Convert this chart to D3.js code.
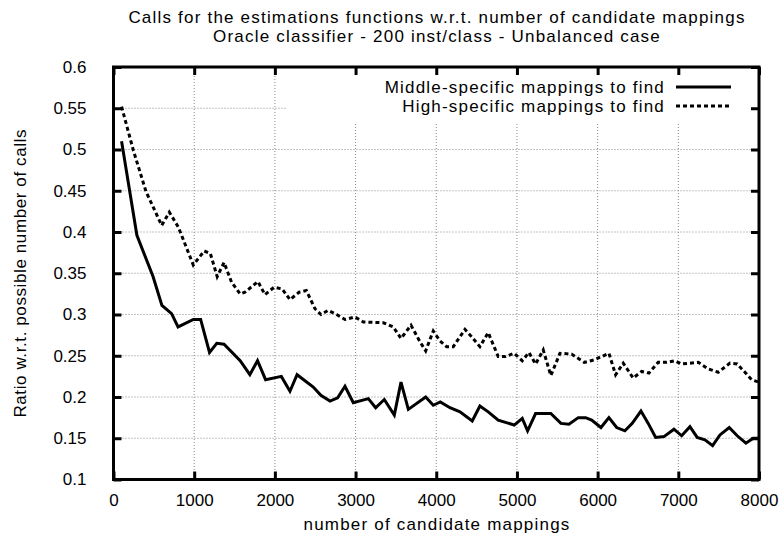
<!DOCTYPE html>
<html>
<head>
<meta charset="utf-8">
<script src="https://cdn.jsdelivr.net/npm/d3@7"></script>
<style>
  body { margin: 0; background: #fff; }
  text { font-family: "Liberation Sans", Arial, sans-serif; fill: #000; }
  .lbl { font-size: 17px; letter-spacing: 1.2px; }
</style>
</head>
<body>
<div id="chart"></div>
<script>
var width = 780;
var height = 543;

// data
var seriesNames = ["Middle-specific mappings to find", "High-specific mappings to find"];
var middleX = [100, 290, 490, 600, 720, 800, 990, 1080, 1190, 1280, 1370, 1570, 1690, 1785, 1885, 2080, 2187, 2275, 2476, 2570,
  2683, 2778, 2869, 2972, 3158, 3249, 3356, 3480, 3563, 3654, 3869, 3963, 4050, 4170, 4294, 4446, 4541, 4644, 4768, 4966,
  5066, 5132, 5231, 5420, 5545, 5645, 5760, 5851, 5926, 6041, 6140, 6236, 6338, 6429, 6537, 6627, 6719, 6822, 6946, 7041,
  7144, 7234, 7330, 7425, 7516, 7631, 7730, 7838, 7928, 8000];
var middleY = [0.510, 0.396, 0.346, 0.311, 0.301, 0.285, 0.294, 0.294, 0.254, 0.265, 0.264, 0.244, 0.227, 0.244, 0.221, 0.225, 0.207, 0.227, 0.212, 0.202,
  0.195, 0.199, 0.213, 0.193, 0.198, 0.187, 0.197, 0.178, 0.218, 0.185, 0.200, 0.190, 0.194, 0.187, 0.182, 0.171, 0.189, 0.182, 0.172, 0.166,
  0.174, 0.159, 0.180, 0.180, 0.168, 0.167, 0.175, 0.175, 0.172, 0.163, 0.175, 0.163, 0.159, 0.168, 0.183, 0.168, 0.151, 0.152, 0.161, 0.153,
  0.164, 0.151, 0.148, 0.141, 0.154, 0.163, 0.153, 0.144, 0.150, 0.150];
var highX = [100, 246, 403, 597, 692, 803, 989, 1125, 1200, 1285, 1370, 1464, 1570, 1629, 1790, 1877, 1990, 2090, 2187, 2300,
  2390, 2497, 2571, 2662, 2765, 2869, 2993, 3096, 3344, 3467, 3563, 3687, 3798, 3869, 3963, 4046, 4129, 4211, 4356, 4439,
  4541, 4644, 4768, 4860, 4966, 5066, 5149, 5231, 5326, 5420, 5533, 5678, 5834, 5958, 6140, 6223, 6317, 6441, 6545, 6636,
  6751, 6854, 6958, 7041, 7247, 7371, 7495, 7640, 7730, 7826, 7908, 8000];
var highY = [0.552, 0.499, 0.449, 0.408, 0.424, 0.406, 0.360, 0.377, 0.374, 0.346, 0.363, 0.339, 0.325, 0.327, 0.340, 0.324, 0.333, 0.331, 0.318, 0.327,
  0.329, 0.307, 0.300, 0.305, 0.300, 0.294, 0.297, 0.291, 0.290, 0.285, 0.271, 0.287, 0.267, 0.256, 0.280, 0.268, 0.261, 0.261, 0.282, 0.273,
  0.261, 0.278, 0.249, 0.249, 0.253, 0.244, 0.254, 0.240, 0.257, 0.226, 0.253, 0.252, 0.242, 0.245, 0.253, 0.227, 0.241, 0.223, 0.231, 0.229,
  0.242, 0.242, 0.244, 0.240, 0.242, 0.234, 0.230, 0.241, 0.240, 0.230, 0.221, 0.218];
var xTicks = [0, 1000, 2000, 3000, 4000, 5000, 6000, 7000, 8000];
var yTicks = [0.1, 0.15, 0.2, 0.25, 0.3, 0.35, 0.4, 0.45, 0.5, 0.55, 0.6];

var pLeft = 113.5, pRight = 759, pTop = 67, pBottom = 479.5;

var svg = d3.select("#chart").append("svg")
  .attr("width", width)
  .attr("height", height);

var xScale = d3.scaleLinear().domain([0, 8000]).range([pLeft, pRight]);
var yScale = d3.scaleLinear().domain([0.1, 0.6]).range([pBottom, pTop]);

// grid
var grid = svg.append("g");
grid.selectAll(".vgrid").data(xTicks.slice(1, -1)).enter().append("line")
  .attr("x1", d => xScale(d)).attr("x2", d => xScale(d))
  .attr("y1", pTop).attr("y2", pBottom)
  .attr("stroke", "#888").attr("stroke-width", 1).attr("stroke-dasharray", "1,2");
grid.selectAll(".hgrid").data(yTicks.slice(1, -1)).enter().append("line")
  .attr("x1", pLeft).attr("x2", pRight)
  .attr("y1", d => yScale(d)).attr("y2", d => yScale(d))
  .attr("stroke", "#888").attr("stroke-width", 1).attr("stroke-dasharray", "1,2");

// key box blanks the grid
svg.append("rect")
  .attr("x", 287).attr("y", pTop)
  .attr("width", pRight - 287).attr("height", 56)
  .attr("fill", "#fff");

// axes with inward ticks on all four sides
var fmtY = d => String(+d.toFixed(2));
var xAxis = d3.axisBottom(xScale).tickValues(xTicks).tickSizeInner(-8).tickSizeOuter(0).tickPadding(14).tickFormat(d3.format("d"));
var yAxis = d3.axisLeft(yScale).tickValues(yTicks).tickSizeInner(-8).tickSizeOuter(0).tickPadding(27).tickFormat(fmtY);
var xTop = d3.axisTop(xScale).tickValues(xTicks).tickSizeInner(-8).tickSizeOuter(0).tickFormat("");
var yRight = d3.axisRight(yScale).tickValues(yTicks).tickSizeInner(-8).tickSizeOuter(0).tickFormat("");

function styleAxis(g) {
  g.select(".domain").remove();
  g.selectAll(".tick line").attr("stroke", "#000").attr("stroke-width", 3);
  g.selectAll(".tick text").style("font-size", "17px").style("font-family", "Liberation Sans, Arial, sans-serif");
}
svg.append("g").attr("transform", "translate(0," + pBottom + ")").call(xAxis).call(styleAxis);
svg.append("g").attr("transform", "translate(" + pLeft + ",0)").call(yAxis).call(styleAxis);
svg.append("g").attr("transform", "translate(0," + pTop + ")").call(xTop).call(styleAxis);
svg.append("g").attr("transform", "translate(" + pRight + ",0)").call(yRight).call(styleAxis);

svg.append("rect")
  .attr("x", pLeft).attr("y", pTop)
  .attr("width", pRight - pLeft).attr("height", pBottom - pTop)
  .attr("fill", "none").attr("stroke", "#000").attr("stroke-width", 3);

// lines
var line = d3.line().x(d => xScale(d[0])).y(d => yScale(d[1]));
var middle = middleX.map((x, i) => [x, middleY[i]]);
var high = highX.map((x, i) => [x, highY[i]]);

svg.append("path").datum(middle)
  .attr("d", line).attr("fill", "none")
  .attr("stroke", "#000").attr("stroke-width", 3);
svg.append("path").datum(high)
  .attr("d", line).attr("fill", "none")
  .attr("stroke", "#000").attr("stroke-width", 3).attr("stroke-dasharray", "4,3");

// legend
var key = svg.append("g");
var keyRows = [{name: seriesNames[0], dash: null, y: 87}, {name: seriesNames[1], dash: "4,3", y: 106}];
keyRows.forEach(function(r) {
  key.append("text").attr("class", "lbl").attr("x", 665).attr("y", r.y).attr("dy", "0.35em")
    .attr("text-anchor", "end").text(r.name);
  key.append("line").attr("x1", 676).attr("x2", 731).attr("y1", r.y).attr("y2", r.y)
    .attr("stroke", "#000").attr("stroke-width", 3).attr("stroke-dasharray", r.dash);
});

// titles
svg.append("text").attr("class", "lbl").attr("x", 437).attr("y", 17).attr("dy", "0.35em")
  .attr("text-anchor", "middle")
  .text("Calls for the estimations functions w.r.t. number of candidate mappings");
svg.append("text").attr("class", "lbl").attr("x", 437).attr("y", 36).attr("dy", "0.35em")
  .attr("text-anchor", "middle")
  .text("Oracle classifier - 200 inst/class - Unbalanced case");
svg.append("text").attr("class", "lbl").attr("x", 437).attr("y", 524).attr("dy", "0.35em")
  .attr("text-anchor", "middle")
  .text("number of candidate mappings");
svg.append("text").attr("class", "lbl").style("letter-spacing", "0.6px")
  .attr("transform", "translate(20," + (pTop + pBottom) / 2 + ") rotate(-90)")
  .attr("dy", "0.35em").attr("text-anchor", "middle")
  .text("Ratio w.r.t. possible number of calls");
</script>
</body>
</html>
